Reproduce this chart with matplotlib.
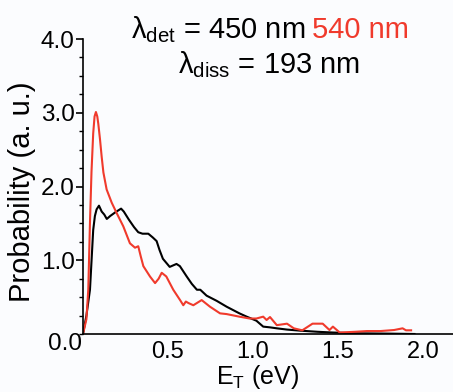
import matplotlib
matplotlib.use("Agg")
import matplotlib.pyplot as plt
from matplotlib.ticker import MultipleLocator

plt.rcParams['font.family'] = ['Liberation Sans', 'DejaVu Sans']
plt.rcParams['mathtext.fontset'] = 'custom'
plt.rcParams['mathtext.rm'] = 'Liberation Sans'
plt.rcParams['mathtext.it'] = 'Liberation Sans:italic'

# Black curve: lambda_det = 450 nm
e_450 = [0, 0.02, 0.041, 0.06, 0.07, 0.08, 0.094, 0.11, 0.125, 0.14, 0.16, 0.19, 0.224, 0.24, 0.27, 0.30,
         0.325, 0.35, 0.384, 0.41, 0.433, 0.45, 0.47, 0.51, 0.55, 0.57, 0.61, 0.64, 0.67, 0.69, 0.727,
         0.786, 0.845, 0.92, 0.963, 1.02, 1.06, 1.1, 1.14, 1.2, 1.28, 1.38, 1.47, 1.6, 1.8, 1.95]
p_450 = [0, 0.25, 0.6, 1.41, 1.6, 1.69, 1.74, 1.66, 1.62, 1.56, 1.60, 1.65, 1.70, 1.66, 1.55, 1.45,
         1.38, 1.36, 1.36, 1.31, 1.26, 1.14, 1.02, 0.91, 0.95, 0.92, 0.78, 0.68, 0.60, 0.60, 0.52,
         0.45, 0.37, 0.28, 0.235, 0.18, 0.10, 0.09, 0.077, 0.06, 0.045, 0.03, 0.02, 0.01, 0.005, 0.0]

# Red curve: lambda_det = 540 nm
e_540 = [0, 0.02, 0.031, 0.041, 0.05, 0.06, 0.068, 0.076, 0.084, 0.09, 0.1, 0.11, 0.12, 0.139, 0.169,
         0.198, 0.237, 0.276, 0.306, 0.325, 0.34, 0.355, 0.394, 0.424, 0.445, 0.463, 0.49, 0.531,
         0.571, 0.59, 0.605, 0.62, 0.649, 0.698, 0.747, 0.806, 0.845, 0.92, 0.98, 1.02, 1.06, 1.08,
         1.1, 1.14, 1.2, 1.24, 1.29, 1.35, 1.41, 1.45, 1.47, 1.51, 1.6, 1.67, 1.75, 1.83, 1.88, 1.9, 1.93]
p_540 = [0, 0.2, 0.6, 1.51, 2.2, 2.72, 2.95, 3.01, 2.95, 2.85, 2.64, 2.4, 2.19, 1.96, 1.78,
         1.64, 1.46, 1.23, 1.17, 1.19, 1.05, 0.92, 0.78, 0.69, 0.75, 0.83, 0.78, 0.60,
         0.46, 0.39, 0.44, 0.42, 0.39, 0.46, 0.37, 0.28, 0.27, 0.235, 0.21, 0.21, 0.235, 0.19,
         0.23, 0.12, 0.14, 0.077, 0.05, 0.14, 0.14, 0.054, 0.1, 0.02, 0.03, 0.04, 0.04, 0.054, 0.077, 0.05, 0.05]

x_ticks = [0.5, 1.0, 1.5, 2.0]
y_ticks = [1.0, 2.0, 3.0, 4.0]

red = '#f03a2c'
bg = '#fbfcfe'
fig = plt.figure(figsize=(4.53, 3.92), dpi=100, facecolor=bg)
ax = fig.add_axes([83/453, 58/392, 1 - 83/453, (334 - 39)/392])
ax.set_facecolor(bg)

ax.plot(e_450, p_450, color='black', lw=1.5, solid_joinstyle='round')
ax.plot(e_540, p_540, color=red, lw=1.5, solid_joinstyle='round')

ax.set_xlim(0, 370/170)
ax.set_ylim(0, 4.0)
ax.spines['top'].set_visible(False)
ax.spines['right'].set_visible(False)
ax.spines['left'].set_linewidth(1.2)
ax.spines['bottom'].set_linewidth(1.2)

ax.set_xticks(x_ticks)
ax.set_xticklabels([f"{v:.1f}" for v in x_ticks])
ax.set_yticks(y_ticks)
ax.set_yticklabels([f"{v:.1f}" for v in y_ticks])
ax.yaxis.set_minor_locator(MultipleLocator(0.25))
ax.tick_params(axis='y', which='major', length=5, width=1.2, labelsize=17.5, pad=1)
ax.tick_params(axis='y', which='minor', length=3, width=1.0)
ax.tick_params(axis='x', which='major', length=0, labelsize=17, pad=5)

fig.text(65/453, 1 - 344/392, "0.0", fontsize=17.5, ha='center', va='center')

fig.text(22/453, 1 - 192/392, "Probability (a. u.)", fontsize=21, rotation=90,
         ha='center', va='center')
fig.text(258/453, 1 - 391/392, "E$_\\mathrm{T}$ (eV)", fontsize=18, ha='center', va='bottom')

fig.text(305/453, 1 - 38/392, "λ$_{\\mathrm{det}}$ = 450 nm", fontsize=21,
         ha='right', va='baseline')
fig.text(312/453, 1 - 38/392, "540 nm", fontsize=21, color=red,
         ha='left', va='baseline')
fig.text(269/453, 1 - 73/392, "λ$_{\\mathrm{diss}}$ = 193 nm", fontsize=21,
         ha='center', va='baseline')

fig.savefig("out.png", dpi=100, facecolor=bg)
